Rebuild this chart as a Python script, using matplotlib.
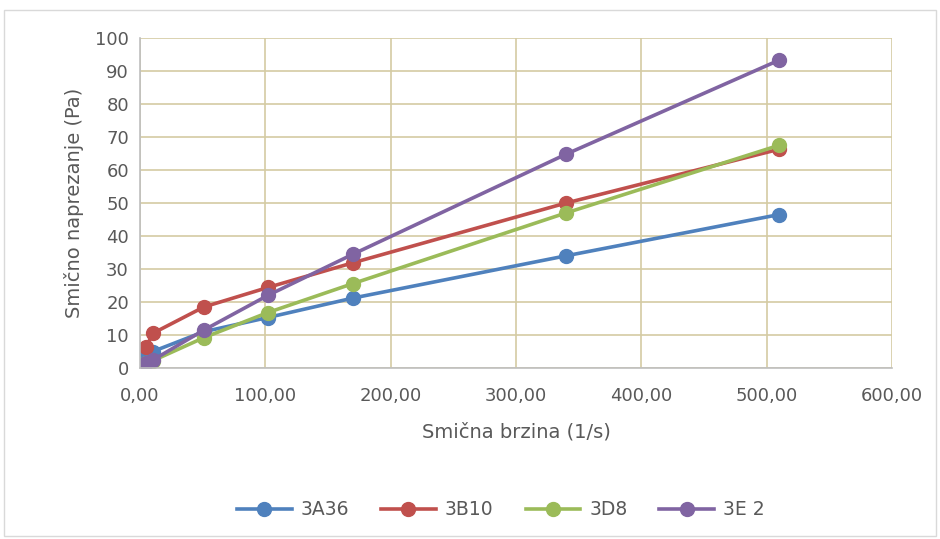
import matplotlib.pyplot as plt
from matplotlib.patches import Rectangle
from matplotlib.ticker import FuncFormatter

# Shear rate (1/s) and shear stress (Pa) per sample
shear_rate = [5.1, 10.2, 51, 102, 170, 340, 510]
stress_3a36 = [4.3, 5.0, 11.0, 15.3, 21.2, 34.0, 46.5]
stress_3b10 = [6.4, 10.5, 18.5, 24.4, 31.9, 50.0, 66.3]
stress_3d8 = [1.5, 2.2, 9.2, 16.8, 25.6, 47.0, 67.5]
stress_3e2 = [1.6, 2.4, 11.5, 22.0, 34.5, 64.8, 93.3]

series = [
    ("3A36", stress_3a36, "#4f81bd"),
    ("3B10", stress_3b10, "#c0504d"),
    ("3D8", stress_3d8, "#9bbb59"),
    ("3E 2", stress_3e2, "#8064a2"),
]

fig = plt.figure(figsize=(9.4, 5.39), dpi=100)
fig.patches.append(Rectangle((4 / 940, 0.005), 932 / 940, 1 - 10 / 539 - 0.005,
                             transform=fig.transFigure, fill=False,
                             edgecolor="#d9d9d9", linewidth=1))
ax = fig.add_axes([140 / 940, 1 - 368 / 539, 752 / 940, 330 / 539])

for name, vals, color in series:
    ax.plot(shear_rate, vals, color=color, linewidth=2.6, marker="o",
            markersize=10, label=name)

ax.set_xlim(0, 600)
ax.set_ylim(0, 100)
ax.set_xticks(range(0, 601, 100))
ax.set_yticks(range(0, 101, 10))
ax.xaxis.set_major_formatter(FuncFormatter(lambda v, p: f"{v:.2f}".replace(".", ",")))
ax.grid(True, color="#d4cba3", linewidth=1.2)
ax.set_axisbelow(True)
for s in ["top", "right"]:
    ax.spines[s].set_visible(False)
for s in ["left", "bottom"]:
    ax.spines[s].set_color("#bfbfbf")
    ax.spines[s].set_linewidth(1.2)
ax.tick_params(length=0, labelsize=13, colors="#595959", pad=8)
ax.tick_params(axis="x", pad=14)

ax.set_xlabel("Smična brzina (1/s)", fontsize=14, color="#595959", labelpad=12)
ax.set_ylabel("Smično naprezanje (Pa)", fontsize=14, color="#595959", labelpad=8)

ax.legend(loc="center", bbox_to_anchor=(0.48, -0.43), ncol=4, frameon=False,
          fontsize=13.5, labelcolor="#595959", handlelength=2.9,
          handletextpad=0.5, columnspacing=1.7)

fig.savefig("out.png", dpi=100)
